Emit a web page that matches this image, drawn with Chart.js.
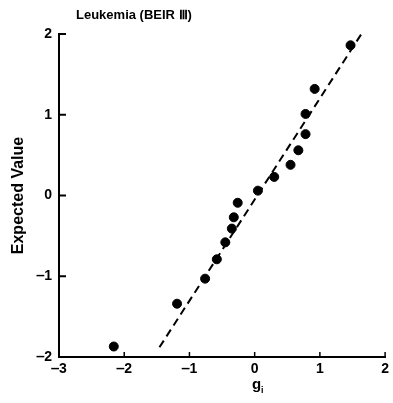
<!DOCTYPE html>
<html>
<head>
<meta charset="utf-8">
<script src="https://cdn.jsdelivr.net/npm/chart.js@4"></script>
<style>
  html, body { margin: 0; padding: 0; background: #fff; }
  #wrap { width: 393px; height: 403px; }
</style>
</head>
<body>
<div id="wrap"><canvas id="qq"></canvas></div>
<script>
// normal scores g_i against ordered expected values
const gScores = [-2.16, -1.19, -0.76, -0.58, -0.45, -0.35, -0.32, -0.26, 0.05, 0.30, 0.55, 0.67, 0.78, 0.78, 0.92, 1.47];
const expected = [-1.87, -1.34, -1.03, -0.79, -0.58, -0.41, -0.27, -0.09, 0.06, 0.23, 0.38, 0.56, 0.76, 1.01, 1.32, 1.86];
// reference line end points
const lineX = [-1.46, 1.70];
const lineY = [-1.88, 2.08];
const xTicks = [-3, -2, -1, 0, 1, 2];
const yTicks = [-2, -1, 0, 1, 2];

const FONT = 'Liberation Sans, Arial, sans-serif';
const fmt = v => (v < 0 ? '\u2012' + Math.abs(v) : String(v));

// short tick marks drawn inward from the axes, plus title and g_i label
const decor = {
  id: 'decor',
  afterDraw(chart) {
    const c = chart.ctx;
    const xs = chart.scales.x, ys = chart.scales.y;
    const area = chart.chartArea;
    c.save();
    c.strokeStyle = '#000';
    c.lineWidth = 2;
    yTicks.forEach(v => {
      const py = ys.getPixelForValue(v);
      c.beginPath(); c.moveTo(area.left, py); c.lineTo(area.left + 7, py); c.stroke();
    });
    c.lineWidth = 1.5;
    xTicks.forEach(v => {
      const px = xs.getPixelForValue(v);
      c.beginPath(); c.moveTo(px, area.bottom); c.lineTo(px, area.bottom - 5); c.stroke();
    });
    c.fillStyle = '#000';
    c.textBaseline = 'alphabetic';
    c.textAlign = 'left';
    c.font = 'bold 13px ' + FONT;
    c.fillText('Leukemia (BEIR \u2162)', 76, 19);
    c.font = 'bold 15px ' + FONT;
    c.fillText('g', 252, 389);
    c.font = 'bold 9px ' + FONT;
    c.fillText('i', 261, 393);
    c.restore();
  }
};

new Chart(document.getElementById('qq').getContext('2d'), {
  type: 'scatter',
  data: {
    datasets: [{
      label: 'Expected Value',
      data: gScores.map((g, i) => ({ x: g, y: expected[i] })),
      backgroundColor: '#000',
      borderColor: '#000',
      pointRadius: 4.5,
      pointHoverRadius: 4.5
    }, {
      type: 'line',
      label: 'fit',
      data: lineX.map((x, i) => ({ x: x, y: lineY[i] })),
      borderColor: '#000',
      borderWidth: 2,
      borderDash: [8, 5],
      pointRadius: 0,
      fill: false
    }]
  },
  options: {
    responsive: true,
    maintainAspectRatio: false,
    animation: false,
    layout: { padding: { top: 34, right: 6, left: 0, bottom: 0 } },
    plugins: { legend: { display: false }, tooltip: { enabled: false } },
    scales: {
      x: {
        type: 'linear', min: -3, max: 2,
        afterBuildTicks: s => { s.ticks = xTicks.map(v => ({ value: v })); },
        afterFit: s => { s.height = 46; },
        grid: { display: false, drawTicks: false },
        border: { display: true, color: '#000', width: 2 },
        ticks: { color: '#000', padding: 4, font: { family: FONT, size: 14, weight: 'bold' }, callback: fmt, maxRotation: 0 }
      },
      y: {
        type: 'linear', min: -2, max: 2,
        afterBuildTicks: s => { s.ticks = yTicks.map(v => ({ value: v })); },
        afterFit: s => { s.width = 59; },
        grid: { display: false, drawTicks: false },
        border: { display: true, color: '#000', width: 2 },
        ticks: { color: '#000', padding: 7, font: { family: FONT, size: 14, weight: 'bold' }, callback: fmt },
        title: { display: true, text: 'Expected Value', color: '#000', padding: { top: 9, bottom: 0 }, font: { family: FONT, size: 16, weight: 'bold' } }
      }
    }
  },
  plugins: [decor]
});
</script>
</body>
</html>
